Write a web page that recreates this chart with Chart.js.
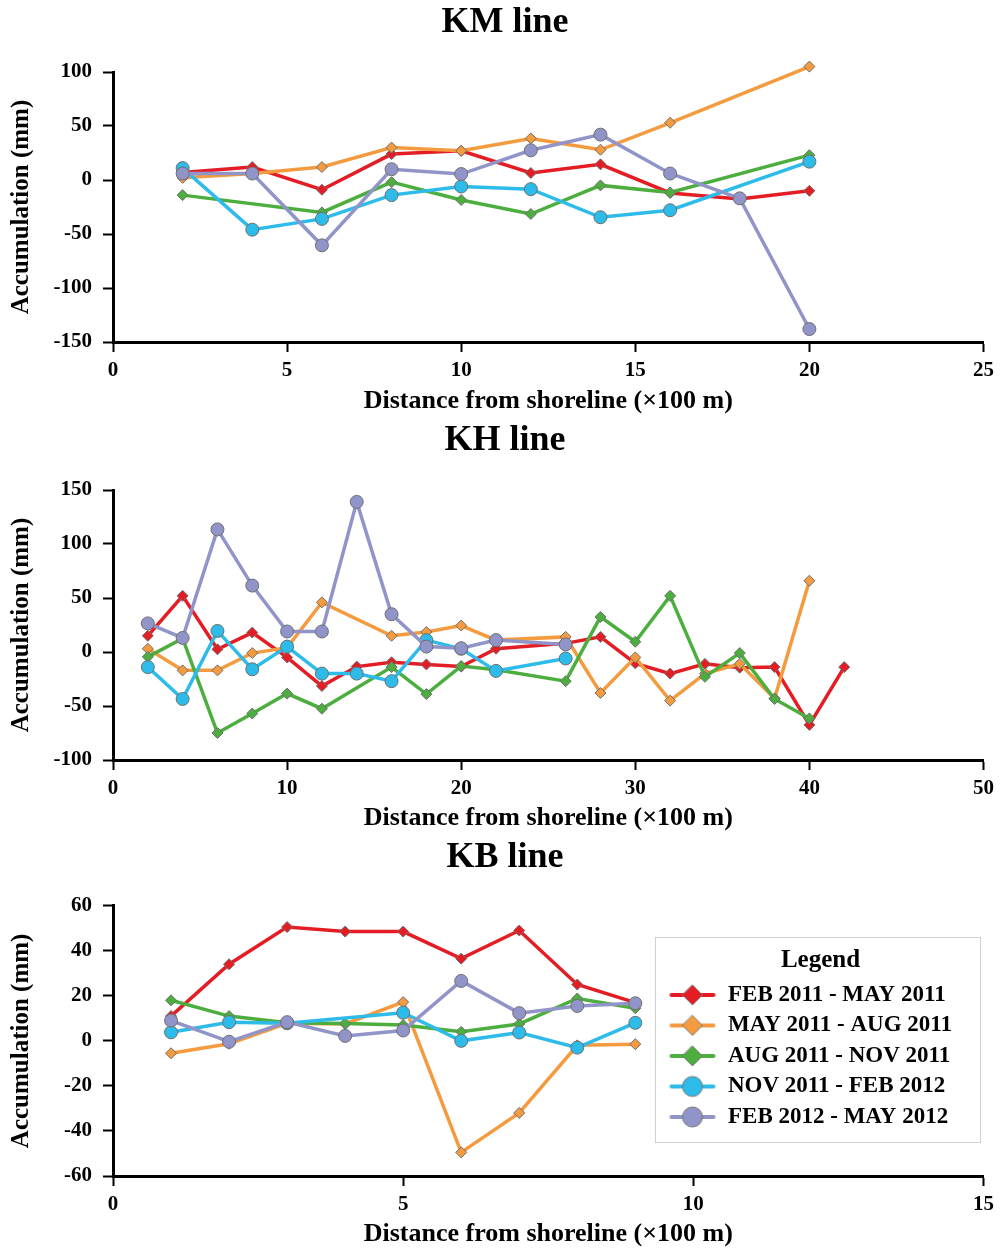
<!DOCTYPE html>
<html>
<head>
<meta charset="utf-8">
<script src="https://cdn.jsdelivr.net/npm/chart.js"></script>
<style>
  body { margin: 0; background: #fff; }
  canvas { display: block; }
</style>
</head>
<body>
<canvas id="km" width="1000" height="418"></canvas>
<canvas id="kh" width="1000" height="418"></canvas>
<canvas id="kb" width="1000" height="413"></canvas>
<script>
const periods = ['FEB 2011 - MAY 2011', 'MAY 2011 - AUG 2011', 'AUG 2011 - NOV 2011', 'NOV 2011 - FEB 2012', 'FEB 2012 - MAY 2012'];
const colors = ['#e41d24', '#f49b3f', '#4cae3e', '#2dbbe9', '#9194c8'];
const shapes = ['rectRot', 'rectRot', 'rectRot', 'circle', 'circle'];

// KM line
const kmDist = [2, 4, 6, 8, 10, 12, 14, 16, 18, 20];
const kmFebMay2011 = [7, 12, -9, 24, 27, 6.5, 14.5, -12, -17.5, -10];
const kmMayAug2011 = [2, 6, 12, 30, 27, 38.5, 28, 53, null, 105];
const kmAugNov2011 = [-14, null, -30, -2, -18.5, -31.5, -5, -11.5, null, 23];
const kmNovFeb2012 = [11, -46, -36, -14, -6, -8.5, -34.5, -28, null, 17];
const kmFebMay2012 = [6, 6, -60.5, 10, 5.5, 27.5, 42, 6, -17, -138];

// KH line
const khDist = [2, 4, 6, 8, 10, 12, 14, 16, 18, 20, 22, 26, 28, 30, 32, 34, 36, 38, 40, 42];
const khFebMay2011 = [15, 52, 2.5, 18, -5, -31.5, -13.5, -9.5, -11.5, -13.5, 3, 8, 14, -10.5, -20, -11, -14.5, -14, -67.5, -14];
const khMayAug2011 = [3, -17, -17, -1, 4, 46, null, 15, 18.5, 24.5, 11, 14, -38, -5, -45, -20, -11, -43, 66, null];
const khAugNov2011 = [-4.5, 12.5, -75, -57, -38.5, -52.5, null, -14, -39, -13, -16.5, -27, 32.5, 9.5, 52, -23, -1, -43.5, -61.5, null];
const khNovFeb2012 = [-14, -43.5, 19.5, -16, 5, -20, -20, -27, 11, 3, -17.5, -6, null, null, null, null, null, null, null, null];
const khFebMay2012 = [26.5, 13, 113.5, 61.5, 19, 19, 139, 35, 5, 3.5, 11, 7, null, null, null, null, null, null, null, null];

// KB line
const kbDist = [1, 2, 3, 4, 5, 6, 7, 8, 9];
const kbFebMay2011 = [11, 34, 50.5, 48.5, 48.5, 36.5, 49, 25, 17];
const kbMayAug2011 = [-5.5, -1.3, 7.8, 7.5, 17.2, -49.5, -32, -2, -1.5];
const kbAugNov2011 = [18, 11, 8, 7.7, 7, 4, 7.5, 18.8, 14.5];
const kbNovFeb2012 = [3.8, 8.3, 7.8, null, 12.5, 0, 3.7, -3, 8];
const kbFebMay2012 = [9, -0.4, 8.3, 2.2, 4.6, 26.6, 12.3, 15.5, 16.7];

Chart.defaults.font.family = "'Liberation Serif', 'Times New Roman', serif";
Chart.defaults.font.weight = 'bold';
Chart.defaults.color = '#000';

// legend symbol: short line with the marker on it
function symbol(i) {
  const c = document.createElement('canvas');
  c.width = 48; c.height = 24;
  const g = c.getContext('2d');
  g.strokeStyle = colors[i]; g.lineWidth = 4; g.lineCap = 'round';
  g.beginPath(); g.moveTo(3, 12); g.lineTo(45, 12); g.stroke();
  g.fillStyle = colors[i]; g.strokeStyle = '#777'; g.lineWidth = 1;
  g.beginPath();
  if (shapes[i] === 'circle') g.arc(24, 12, 10, 0, Math.PI * 2);
  else { g.moveTo(24, 2); g.lineTo(34, 12); g.lineTo(24, 22); g.lineTo(14, 12); g.closePath(); }
  g.fill(); g.stroke();
  return c;
}
const symbols = periods.map((p, i) => symbol(i));

function datasets(series) {
  return series.map((data, i) => ({
    label: periods[i],
    data,
    order: 5 - i,
    clip: false,
    borderColor: colors[i],
    backgroundColor: colors[i],
    borderWidth: 3.5,
    pointStyle: shapes[i],
    pointRadius: shapes[i] === 'circle' ? 6.5 : 5.5,
    pointBorderColor: '#6f6f6f',
    pointBorderWidth: 1,
    spanGaps: true
  }));
}

function axisStyle() {
  return {
    grid: { drawOnChartArea: false, tickLength: 10, tickWidth: 2, tickColor: '#000' },
    border: { color: '#000', width: 3 }
  };
}

function makeChart(id, o) {
  return new Chart(document.getElementById(id), {
    type: 'line',
    data: { labels: o.labels, datasets: datasets(o.series) },
    options: {
      responsive: false,
      animation: false,
      layout: { padding: { left: 24, right: 14, top: 0, bottom: 0 } },
      plugins: {
        title: { display: true, text: o.title, color: '#000', font: { size: 36, lineHeight: 1 }, padding: { top: o.titleTop, bottom: o.titleBottom } },
        legend: o.legend || { display: false },
        tooltip: { enabled: false }
      },
      scales: {
        x: Object.assign(axisStyle(), {
          type: 'linear', min: 0, max: o.xMax,
          ticks: { stepSize: o.xStep, padding: 6, font: { size: 21 } },
          title: { display: true, text: 'Distance from shoreline (\u00D7100 m)', font: { size: 26, lineHeight: 1 }, padding: { top: 0, bottom: o.xTitlePad } },
          afterFit: s => { s.height = o.xHeight; }
        }),
        y: Object.assign(axisStyle(), {
          min: o.yMin, max: o.yMax,
          ticks: { stepSize: o.yStep, padding: 11, font: { size: 21 } },
          title: { display: true, text: 'Accumulation (mm)', font: { size: 25, lineHeight: 1 }, padding: { top: -14.5, bottom: 0 } },
          afterFit: s => { s.width = 89; }
        })
      }
    },
    plugins: o.plugins || []
  });
}

makeChart('km', {
  title: 'KM line', labels: kmDist,
  series: [kmFebMay2011, kmMayAug2011, kmAugNov2011, kmNovFeb2012, kmFebMay2012],
  xMax: 25, xStep: 5, yMin: -150, yMax: 100, yStep: 50,
  titleTop: 5, titleBottom: 31, xHeight: 76, xTitlePad: 4
});

makeChart('kh', {
  title: 'KH line', labels: khDist,
  series: [khFebMay2011, khMayAug2011, khAugNov2011, khNovFeb2012, khFebMay2012],
  xMax: 50, xStep: 10, yMin: -100, yMax: 150, yStep: 50,
  titleTop: 5, titleBottom: 31, xHeight: 76, xTitlePad: 5
});

makeChart('kb', {
  title: 'KB line', labels: kbDist,
  series: [kbFebMay2011, kbMayAug2011, kbAugNov2011, kbNovFeb2012, kbFebMay2012],
  xMax: 15, xStep: 5, yMin: -60, yMax: 60, yStep: 20,
  titleTop: 4, titleBottom: 29.7, xHeight: 73, xTitlePad: 2,
  legend: {
    display: true, position: 'chartArea', align: 'start',
    title: { display: true, text: 'Legend', color: '#000', font: { size: 25, lineHeight: 1.1 }, padding: { top: 5, bottom: 0 } },
    labels: {
      usePointStyle: true, pointStyleWidth: 48, padding: 7.5, color: '#000', font: { size: 23 },
      sort: (a, b) => a.datasetIndex - b.datasetIndex,
      generateLabels: chart => Chart.defaults.plugins.legend.labels.generateLabels(chart)
        .map(it => Object.assign(it, { pointStyle: symbols[it.datasetIndex] }))
    }
  },
  plugins: [{
    id: 'legendInside',
    afterLayout(chart) {
      Object.assign(chart.legend, { left: 661, right: 980, top: 107.5, bottom: 340, width: 319, height: 232.5 });
    },
    afterDraw(chart) {
      const ctx = chart.ctx;
      ctx.save();
      ctx.strokeStyle = '#cfcfcf';
      ctx.lineWidth = 1;
      ctx.strokeRect(655.5, 101.5, 325, 205);
      ctx.restore();
    }
  }]
});
</script>
</body>
</html>
